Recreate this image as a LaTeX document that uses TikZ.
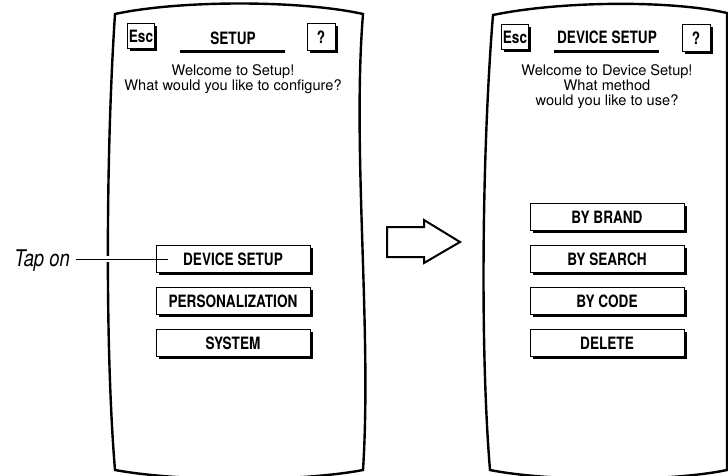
\documentclass[tikz,border=0pt]{standalone}
\usepackage{fontspec}
\setmainfont{TeX Gyre Heros}
\newfontfamily\condfont{TeX Gyre Heros}[FakeStretch=0.8]
\usetikzlibrary{shadows}
\tikzset{
  phone/.style={line width=2.4pt, line join=miter},
  btn/.style={draw, line width=0.8pt, fill=white, minimum width=154pt, minimum height=27pt,
    inner sep=0pt, font=\condfont\bfseries\fontsize{17}{19}\selectfont,
    drop shadow={shadow xshift=2.6pt, shadow yshift=-2.6pt, fill=black, opacity=1}},
  smallbtn/.style={btn, minimum width=27pt, minimum height=25pt},
  qbtn/.style={btn, minimum width=28pt, minimum height=27pt},
  title/.style={font=\condfont\bfseries\fontsize{17}{19}\selectfont, inner sep=0pt},
  msg/.style={font=\fontsize{14.6}{15}\selectfont, align=center, inner sep=0pt, anchor=north},
  tapline/.style={line width=0.9pt},
  halo/.style={draw=white, line width=6pt, shorten >=30pt},
  bar/.style={line width=3pt},
  bigarrow/.style={line width=2pt, line join=miter, fill=white}
}
\begin{document}
\begin{tikzpicture}[x=1pt,y=-1pt]
\useasboundingbox (0,0) rectangle (728,476);
% left phone outline
\draw[phone] (115,14) .. controls (180,0) and (300,0) .. (363,14)
  .. controls (352,150) and (372,330) .. (363,470)
  .. controls (300,482) and (180,482) .. (115,470)
  .. controls (105,350) and (106,150) .. (115,14) -- cycle;
% right phone outline
\draw[phone] (493,15) .. controls (560,1) and (670,0) .. (727,13)
  -- (727,470)
  .. controls (670,482) and (550,482) .. (490,470)
  .. controls (480,350) and (482,150) .. (493,15) -- cycle;

% left screen
\node[smallbtn] (esc1) at (141,36) {Esc};
\node[qbtn] (help1) at (321,37) {?};
\node[title] (title1) at (233,38) {SETUP};
\draw[bar] (180,52) -- (285,52);
\node[msg] (msg1) at (233,64) {Welcome to Setup!\\What would you like to configure?};
\node[btn] (b1) at (233,259) {DEVICE SETUP};
\node[btn] (b2) at (233,301) {PERSONALIZATION};
\node[btn] (b3) at (233,343) {SYSTEM};

% right screen
\node[smallbtn] (esc2) at (515,37) {Esc};
\node[qbtn] (help2) at (696,38) {?};
\node[title] (title2) at (607,37) {DEVICE SETUP};
\draw[bar] (554,52) -- (659,52);
\node[msg] (msg2) at (607,64) {Welcome to Device Setup!\\What method\\would you like to use?};
\node[btn] (c1) at (607,217) {BY BRAND};
\node[btn] (c2) at (607,259) {BY SEARCH};
\node[btn] (c3) at (607,301) {BY CODE};
\node[btn] (c4) at (607,343) {DELETE};

% tap on label
\node[font=\condfont\itshape\fontsize{23}{25}\selectfont, inner sep=0pt, anchor=base east] (tap) at (70,266) {Tap on};
\coordinate (tapend) at ([xshift=12pt]b1.west);
\draw[halo] ([xshift=6pt]tap.east |- b1.west) -- (tapend);
\draw[tapline] ([xshift=6pt]tap.east |- b1.west) -- (tapend);

% big arrow
\draw[bigarrow] (387,227) -- (424,227) -- (424,220) -- (460,242) -- (424,263) -- (424,257) -- (387,257) -- cycle;
\end{tikzpicture}
\end{document}
